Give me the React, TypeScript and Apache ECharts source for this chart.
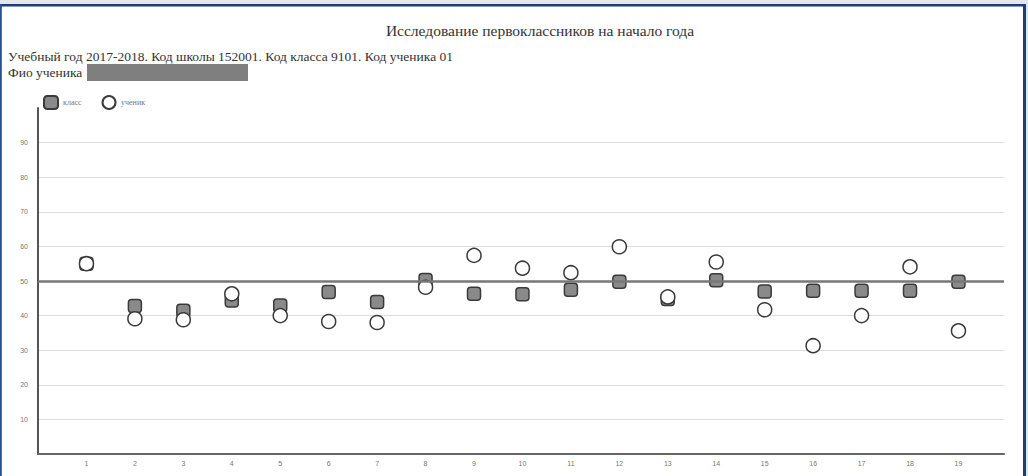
import React, { useEffect, useRef } from "react";
import * as echarts from "echarts";

const TITLE = "Исследование первоклассников на начало года";
const SUBTITLE = "Учебный год 2017-2018. Код школы 152001. Код класса 9101. Код ученика 01";
const NAME_LABEL = "Фио ученика";

const tasks = [1, 2, 3, 4, 5, 6, 7, 8, 9, 10, 11, 12, 13, 14, 15, 16, 17, 18, 19];
const classValues = [55, 42.8, 41.4, 44.4, 42.9, 46.8, 43.9, 50.3, 46.3, 46.2, 47.5, 49.8, 44.8, 50.2, 47.0, 47.2, 47.2, 47.2, 49.8];
const studentValues = [55, 39.1, 38.8, 46.3, 40.0, 38.3, 38.0, 48.2, 57.4, 53.7, 52.4, 59.9, 45.4, 55.5, 41.7, 31.3, 40.0, 54.1, 35.6];
const meanLevel = 50;
const legendNames = ["класс", "ученик"];

export default function App() {
  const ref = useRef<HTMLDivElement>(null);
  useEffect(() => {
    document.body.style.margin = "0";
    const chart = echarts.init(ref.current!, null, { renderer: "svg" });
    const serif = "'Liberation Serif', 'DejaVu Serif', serif";
    chart.setOption({
      animation: false,
      backgroundColor: "#ffffff",
      graphic: [
        { type: "rect", shape: { x: 0, y: 0, width: 1028, height: 4 }, style: { fill: "#e3e7ec" }, silent: true },
        { type: "rect", shape: { x: 0, y: 4, width: 1026, height: 2.5 }, style: { fill: "#1d3c7a" }, silent: true },
        { type: "rect", shape: { x: 0, y: 4, width: 1.8, height: 472 }, style: { fill: "#2a4f8f" }, silent: true },
        { type: "rect", shape: { x: 1023, y: 4, width: 3, height: 472 }, style: { fill: "#1d3c7a" }, silent: true },
        { type: "rect", shape: { x: 1026, y: 0, width: 2, height: 476 }, style: { fill: "#dfe4ea" }, silent: true },
        {
          type: "text", x: 540, y: 30,
          style: { text: TITLE, font: `15.5px ${serif}`, fill: "#333", align: "center", verticalAlign: "middle" },
        },
        {
          type: "text", x: 8, y: 56,
          style: { text: SUBTITLE, font: `13.5px ${serif}`, fill: "#333", align: "left", verticalAlign: "middle" },
        },
        {
          type: "text", x: 8, y: 72,
          style: { text: NAME_LABEL, font: `13.5px ${serif}`, fill: "#333", align: "left", verticalAlign: "middle" },
        },
        { type: "rect", shape: { x: 87, y: 64, width: 161, height: 17 }, style: { fill: "#7f7f7f" }, silent: true },
      ],
      legend: {
        data: legendNames,
        left: 38,
        top: 90,
        itemWidth: 14,
        itemHeight: 13,
        itemGap: 20,
        textStyle: { fontSize: 8, color: "#777", fontFamily: serif },
      },
      grid: { left: 38, right: 24, top: 108, bottom: 22 },
      xAxis: {
        type: "value",
        min: 0,
        max: 19.94,
        interval: 1,
        axisLine: { show: true, lineStyle: { color: "#666", width: 2 } },
        axisTick: { show: false },
        splitLine: { show: false },
        axisLabel: {
          fontSize: 7,
          color: "#777",
          margin: 6,
          formatter: (v: number) => (Number.isInteger(v) && v >= 1 && v <= 19 ? String(v) : ""),
        },
      },
      yAxis: {
        type: "value",
        min: 0,
        max: 100,
        interval: 10,
        axisLine: { show: true, lineStyle: { color: "#555", width: 2 } },
        axisTick: { show: false },
        splitLine: { show: true, showMaxLine: false, lineStyle: { color: "#dcdcdc", width: 1 } },
        axisLabel: {
          fontSize: 7,
          color: "#777",
          margin: 10,
          showMaxLabel: false,
          formatter: (v: number) => (v > 0 && v < 100 ? String(v) : ""),
        },
      },
      series: [
        {
          name: legendNames[0],
          type: "scatter",
          symbol: "roundRect",
          symbolSize: 13,
          itemStyle: { color: "#8a8a8a", borderColor: "#3a3a3a", borderWidth: 1.5, opacity: 1 },
          data: tasks.map((t, i) => [t, classValues[i]]),
          markLine: {
            silent: true,
            symbol: "none",
            label: { show: false },
            lineStyle: { color: "#777", width: 2.5, type: "solid" },
            data: [{ yAxis: meanLevel }],
          },
          z: 2,
        },
        {
          name: legendNames[1],
          type: "scatter",
          symbol: "circle",
          symbolSize: 14,
          itemStyle: { color: "#ffffff", borderColor: "#3a3a3a", borderWidth: 1.5, opacity: 1 },
          data: tasks.map((t, i) => [t, studentValues[i]]),
          z: 3,
        },
      ],
    });
    return () => chart.dispose();
  }, []);
  return <div ref={ref} style={{ position: "absolute", left: 0, top: 0, width: 1028, height: 476 }} />;
}
